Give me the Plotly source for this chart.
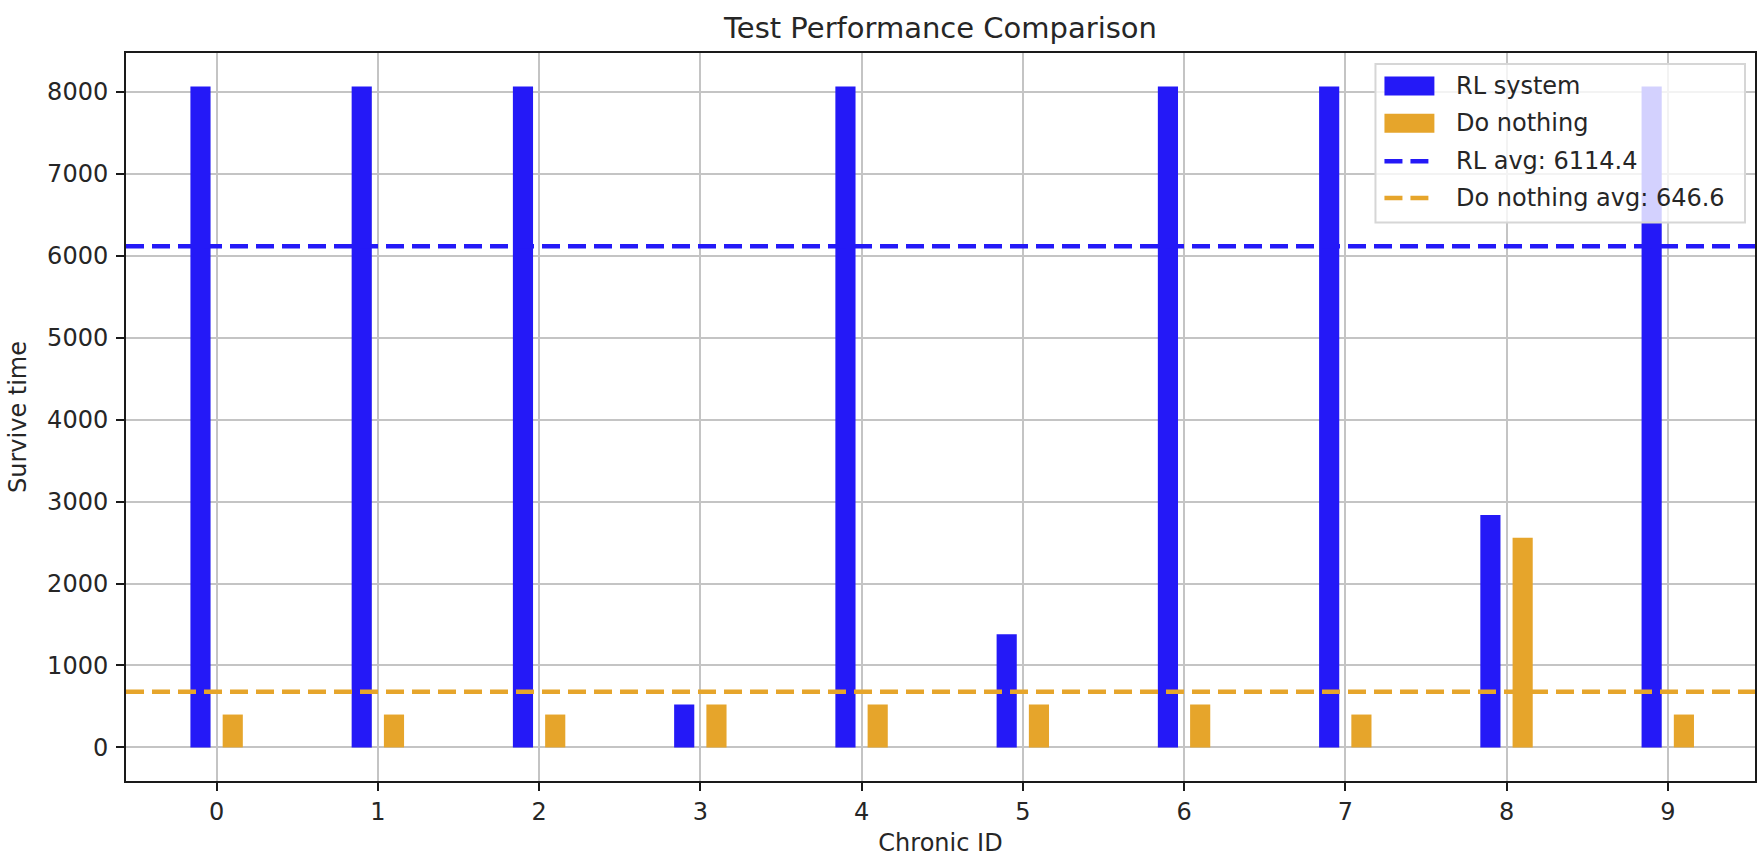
import plotly.graph_objects as go

# ---------------- data ----------------
chronic_ids = list(range(10))
tick_labels = [str(i) for i in chronic_ids]
rl_survive = [8064, 8064, 8064, 525, 8064, 1380, 8064, 8064, 2835, 8064]
dn_survive = [401, 401, 401, 525, 525, 525, 525, 401, 2558, 401]
rl_avg_label = 6114.4
dn_avg_label = 646.6
rl_avg_line = 6114.4
dn_avg_line = 680
series_names = ["RL system", "Do nothing",
                f"RL avg: {rl_avg_label}", f"Do nothing avg: {dn_avg_label}"]
y_ticks = [0, 1000, 2000, 3000, 4000, 5000, 6000, 7000, 8000]

# ---------------- style ----------------
W, H = 1762, 857
ML, MR, MT, MB = 126, 5, 53, 74
BLUE = "#2419F7"
ORANGE = "#E6A52B"
FONT = "DejaVu Sans"
TXT = "#262626"
FS = 24

def px_x(p):
    return (p - ML) / (W - ML - MR)

def px_y(p):
    return (H - MB - p) / (H - MT - MB)

fig = go.Figure()
fig.add_trace(go.Bar(x=chronic_ids, y=rl_survive, name=series_names[0],
                     marker=dict(color=BLUE, line=dict(width=0)),
                     width=0.125, offset=-0.1625, showlegend=False))
fig.add_trace(go.Bar(x=chronic_ids, y=dn_survive, name=series_names[1],
                     marker=dict(color=ORANGE, line=dict(width=0)),
                     width=0.125, offset=0.0375, showlegend=False))

fig.add_hline(y=rl_avg_line, line=dict(color=BLUE, width=4.5, dash="18px,8px"))
fig.add_hline(y=dn_avg_line, line=dict(color=ORANGE, width=4.5, dash="18px,8px"))

# ---------- custom matplotlib-like legend ----------
lx0, ly0, lx1, ly1 = 1377, 64, 1747, 223
fig.add_shape(type="rect", xref="paper", yref="paper",
              x0=px_x(lx0), x1=px_x(lx1), y0=px_y(ly1), y1=px_y(ly0),
              fillcolor="rgba(255,255,255,0.8)", line=dict(color="#d6d6d6", width=2),
              layer="above")
rows = [86, 123.5, 161.5, 198.5]
kinds = [("patch", BLUE), ("patch", ORANGE), ("line", BLUE), ("line", ORANGE)]
for name, yc, (kind, col) in zip(series_names, rows, kinds):
    if kind == "patch":
        fig.add_shape(type="rect", xref="paper", yref="paper",
                      x0=px_x(1386), x1=px_x(1436), y0=px_y(yc + 9.5), y1=px_y(yc - 9.5),
                      fillcolor=col, line=dict(width=0), layer="above")
    else:
        fig.add_shape(type="line", xref="paper", yref="paper",
                      x0=px_x(1386), x1=px_x(1430), y0=px_y(yc), y1=px_y(yc),
                      line=dict(color=col, width=4.5, dash="18px,8px"), layer="above")
    fig.add_annotation(xref="paper", yref="paper", x=px_x(1456), y=px_y(yc),
                       xanchor="left", yanchor="middle", text=name, showarrow=False,
                       font=dict(family=FONT, size=FS, color=TXT))

axis_common = dict(showline=True, linecolor="#1a1a1a", linewidth=2, mirror=True,
                   ticks="outside", ticklen=8, tickwidth=2, tickcolor="#1a1a1a",
                   showgrid=True, gridcolor="#c4c4c4", gridwidth=2, zeroline=False,
                   tickfont=dict(family=FONT, size=FS, color=TXT))

fig.update_layout(
    width=W, height=H,
    margin=dict(l=ML, r=MR, t=MT, b=MB, pad=0),
    paper_bgcolor="white", plot_bgcolor="white",
    barmode="overlay",
    showlegend=False,
    title=dict(text="Test Performance Comparison", x=0.5, xref="paper",
               y=1 - 28 / H, yref="container", yanchor="middle", xanchor="center",
               font=dict(family=FONT, size=29, color=TXT)),
    xaxis=dict(axis_common, range=[-0.562, 9.541], tickmode="array",
               tickvals=chronic_ids, ticktext=tick_labels,
               title=dict(text="Chronic ID", font=dict(family=FONT, size=FS, color=TXT), standoff=9)),
    yaxis=dict(axis_common, range=[-410, 8474], tickmode="array",
               tickvals=y_ticks, ticktext=[str(v) for v in y_ticks],
               ticklabelstandoff=3,
               title=dict(text="Survive time", font=dict(family=FONT, size=FS, color=TXT), standoff=14)),
)

fig.write_html("out.html", config={"displayModeBar": False},
               post_script="document.body.style.margin='0';")
